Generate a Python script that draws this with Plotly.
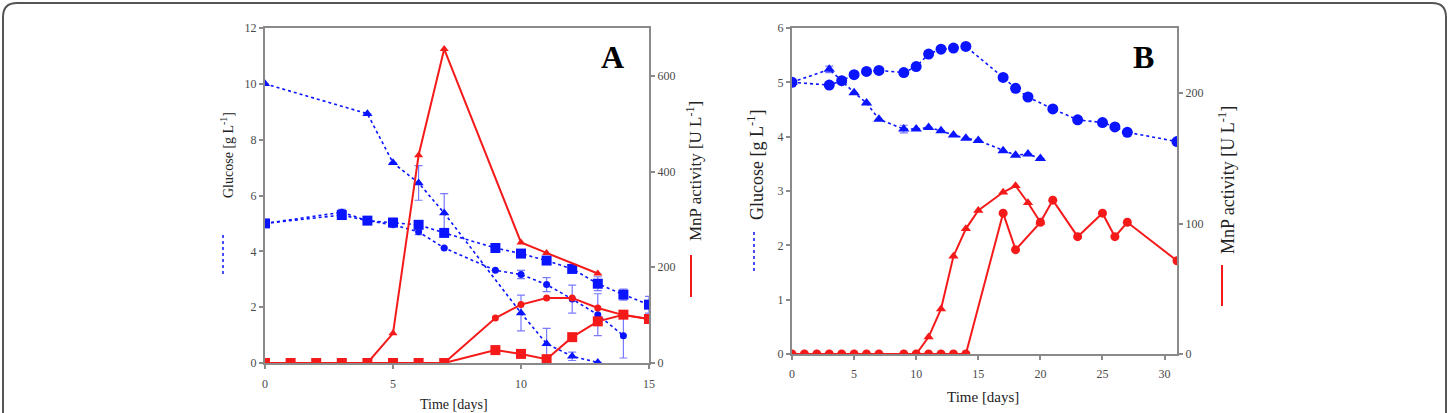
import plotly.graph_objects as go

# ---------------- Panel A data ----------------
a_days_tri = [0, 4, 5, 6, 7, 10, 11, 12, 13]
a_glc_tri = [10.0, 8.93, 7.17, 6.45, 5.37, 1.79, 0.69, 0.24, 0.02]
a_glc_tri_err = [0, 0, 0, 0.62, 0.7, 0.64, 0.55, 0.15, 0]

a_days_sq = [0, 3, 4, 5, 6, 7, 9, 10, 11, 12, 13, 14, 15]
a_glc_sq = [5.0, 5.3, 5.1, 5.03, 4.95, 4.66, 4.12, 3.92, 3.67, 3.37, 2.84, 2.45, 2.09]
a_glc_sq_err = [0, 0.15, 0, 0.15, 0.15, 0, 0, 0, 0.1, 0, 0.25, 0.2, 0.3]

a_days_ci = [0, 3, 4, 5, 6, 7, 9, 10, 11, 12, 13, 14]
a_glc_ci = [5.0, 5.4, 5.1, 4.95, 4.7, 4.12, 3.32, 3.17, 2.81, 2.29, 1.73, 0.98]
a_glc_ci_err = [0, 0.1, 0, 0, 0.1, 0, 0, 0.15, 0.25, 0.5, 0.75, 0.8]

a_mnp_tri_days = [0, 1, 2, 3, 4, 5, 6, 7, 10, 11, 13]
a_mnp_tri = [0, 0, 0, 0, 0, 62, 434, 656, 252, 230, 187]

a_mnp_ci_days = [0, 1, 2, 3, 4, 5, 6, 7, 9, 10, 11, 12, 13, 14, 15]
a_mnp_ci = [0, 0, 0, 0, 0, 0, 0, 0, 94, 122, 136, 136, 115, 100, 92]

a_mnp_sq_days = [0, 1, 2, 3, 4, 5, 6, 7, 9, 10, 11, 12, 13, 14, 15]
a_mnp_sq = [0, 0, 0, 0, 0, 0, 0, 0, 27, 19, 8, 54, 87, 101, 92]

# ---------------- Panel B data ----------------
b_days_ci = [0, 3, 4, 5, 6, 7, 9, 10, 11, 12, 13, 14, 17, 18, 19, 21, 23, 25, 26, 27, 31]
b_glc_ci = [5.0, 4.95, 5.03, 5.14, 5.2, 5.22, 5.18, 5.29, 5.52, 5.61, 5.63, 5.66,
            5.09, 4.89, 4.73, 4.51, 4.31, 4.26, 4.18, 4.08, 3.91]

b_days_tri = [0, 3, 4, 5, 6, 7, 9, 10, 11, 12, 13, 14, 15, 17, 18, 19, 20]
b_glc_tri = [5.0, 5.24, 5.03, 4.81, 4.62, 4.32, 4.14, 4.14, 4.17, 4.11, 4.03, 3.97, 3.93,
             3.74, 3.66, 3.68, 3.6]
b_glc_tri_err = [0, 0.06, 0, 0, 0, 0, 0.07, 0, 0, 0, 0, 0, 0, 0, 0, 0, 0]

b_mnp_tri_days = [0, 1, 2, 3, 4, 5, 6, 7, 9, 10, 11, 12, 13, 14, 15, 17, 18, 19, 20]
b_mnp_tri = [0, 0, 0, 0, 0, 0, 0, 0, 0, 0, 13, 34.5, 75, 96, 110, 124, 129, 116, 101]

b_mnp_ci_days = [0, 1, 2, 3, 4, 5, 6, 7, 9, 10, 11, 12, 13, 14, 17, 18, 20, 21, 23, 25, 26, 27, 31]
b_mnp_ci = [0, 0, 0, 0, 0, 0, 0, 0, 0, 0, 0, 0, 0, 0, 108, 80, 101, 118, 90, 108, 90, 101, 71.5]

# ticks
a_x_ticks = [0, 5, 10, 15]
a_yl_ticks = [0, 2, 4, 6, 8, 10, 12]
a_yr_ticks = [0, 200, 400, 600]
b_x_ticks = [0, 5, 10, 15, 20, 25, 30]
b_yl_ticks = [0, 1, 2, 3, 4, 5, 6]
b_yr_ticks = [0, 100, 200]

BLUE = "#0a14ff"
EBLUE = "#7a7aff"
RED = "#f51a1a"
AXC = "#8a8a8a"
W, H = 1449, 413

fig = go.Figure()


def blue(x, y, sym, size, xa, ya, err=None):
    fig.add_trace(go.Scatter(
        x=x, y=y, xaxis=xa, yaxis=ya, mode="lines+markers",
        line=dict(color=BLUE, width=1.6, dash="dot"),
        marker=dict(symbol=sym, size=size, color=BLUE),
        error_y=(dict(type="data", array=err, visible=True, color=EBLUE,
                      thickness=1.2, width=4) if err is not None else None),
        showlegend=False))


def red(x, y, sym, size, xa, ya):
    fig.add_trace(go.Scatter(
        x=x, y=y, xaxis=xa, yaxis=ya, mode="lines+markers",
        line=dict(color=RED, width=2),
        marker=dict(symbol=sym, size=size, color=RED),
        showlegend=False))


# Panel A
red(a_mnp_tri_days, a_mnp_tri, "triangle-up", 8, "x", "y2")
red(a_mnp_ci_days, a_mnp_ci, "circle", 7, "x", "y2")
red(a_mnp_sq_days, a_mnp_sq, "square", 10, "x", "y2")
blue(a_days_tri, a_glc_tri, "triangle-up", 9, "x", "y", a_glc_tri_err)
blue(a_days_ci, a_glc_ci, "circle", 7, "x", "y", a_glc_ci_err)
blue(a_days_sq, a_glc_sq, "square", 10, "x", "y", a_glc_sq_err)

# Panel B
red(b_mnp_tri_days, b_mnp_tri, "triangle-up", 9, "x2", "y4")
red(b_mnp_ci_days, b_mnp_ci, "circle", 9, "x2", "y4")
blue(b_days_tri, b_glc_tri, "triangle-up", 10, "x2", "y3", b_glc_tri_err)
blue(b_days_ci, b_glc_ci, "circle", 11, "x2", "y3")

tickfont = dict(family="Liberation Serif", size=12, color="#4a4a4a")
common = dict(showline=True, linecolor=AXC, linewidth=2, ticks="outside",
              tickcolor=AXC, ticklen=4, tickwidth=1.5, showgrid=False,
              zeroline=False, tickfont=tickfont, automargin=False)

axA_x = [265 / W, 649 / W]
axA_y = [1 - 363 / H, 1 - 28 / H]
axB_x = [792 / W, 1177 / W]
axB_y = [1 - 354 / H, 1 - 28 / H]

fig.update_layout(
    width=W, height=H, margin=dict(l=0, r=0, t=0, b=0, autoexpand=False),
    paper_bgcolor="white", plot_bgcolor="white",
    xaxis=dict(domain=axA_x, range=[0, 15], tickvals=a_x_ticks, anchor="y",
               mirror=True, ticklabelstandoff=5, **common),
    yaxis=dict(domain=axA_y, range=[0, 12], tickvals=a_yl_ticks, anchor="x", **common),
    yaxis2=dict(domain=axA_y, range=[0, 700], tickvals=a_yr_ticks, anchor="x",
                overlaying="y", side="right", **common),
    xaxis2=dict(domain=axB_x, range=[0, 31], tickvals=b_x_ticks, anchor="y3",
                mirror=True, ticklabelstandoff=4, **common),
    yaxis3=dict(domain=axB_y, range=[0, 6], tickvals=b_yl_ticks, anchor="x2", **common),
    yaxis4=dict(domain=axB_y, range=[0, 250], tickvals=b_yr_ticks, anchor="x2",
                overlaying="y3", side="right", **common),
)

serif = "Liberation Serif"
ann = []


def text(x, y, t, size, angle=0, color="#222"):
    ann.append(dict(x=x / W, y=1 - y / H, xref="paper", yref="paper", text=t,
                    showarrow=False, textangle=angle, xanchor="center", yanchor="middle",
                    font=dict(family=serif, size=size, color=color)))


text(227, 155, "Glucose [g L<sup>-1</sup>]", 14, -90)
text(694, 171, "MnP activity [U L<sup>-1</sup>]", 17, -90)
text(454, 404, "Time [days]", 14)
text(612, 57, "<b>A</b>", 32, color="#000")

text(756, 165, "Glucose [g L<sup>-1</sup>]", 18, -90)
text(1226, 180, "MnP activity [U L<sup>-1</sup>]", 18, -90)
text(983, 397, "Time [days]", 15)
text(1143, 57, "<b>B</b>", 32, color="#000")
fig.update_layout(annotations=ann)

shapes = []


def vline(x, y0, y1, color, dash):
    shapes.append(dict(type="line", xref="paper", yref="paper", x0=x / W, x1=x / W,
                       y0=1 - y0 / H, y1=1 - y1 / H,
                       line=dict(color=color, width=1.5 if dash else 2, dash=dash)))


vline(223, 235, 277, BLUE, "dot")
vline(691, 255, 297, RED, None)
vline(754, 232, 274, BLUE, "dot")
vline(1222, 265, 306, RED, None)

# rounded frame
x0, x1, yt, yb = 3 / W, 1446 / W, 1 - 3 / H, -0.05
rx, ry = 14 / W, 14 / H
path = (f"M {x0},{yb} L {x0},{yt - ry} Q {x0},{yt} {x0 + rx},{yt} "
        f"L {x1 - rx},{yt} Q {x1},{yt} {x1},{yt - ry} L {x1},{yb}")
shapes.append(dict(type="path", xref="paper", yref="paper", path=path,
                   line=dict(color="#555", width=2)))
fig.update_layout(shapes=shapes)

fig.write_html("out.html")
